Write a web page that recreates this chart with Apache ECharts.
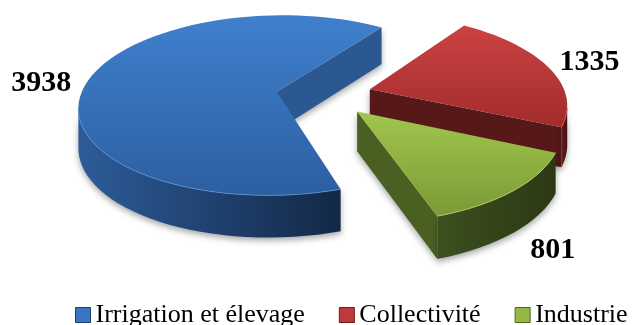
<!DOCTYPE html>
<html><head><meta charset="utf-8">
<script src="https://cdn.jsdelivr.net/npm/echarts@6/dist/echarts.min.js"></script>
<style>html,body{margin:0;padding:0;background:#fff}#c{width:633px;height:325px}</style>
</head><body><div id="c"></div>
<script>
// ---- data ----
const categories = ['Irrigation et élevage', 'Collectivité', 'Industrie'];
const values = [3938, 1335, 801];
const labelTexts = ['3938', '1335', '801'];

// ---- styles ----
const SERIF = '"Liberation Serif", "Times New Roman", "DejaVu Serif", serif';
const topColors = [['#3F80CE', '#2D5FA0'], ['#CC4242', '#A22C2C'], ['#A2C64E', '#7A9A36']];
const sideColors = [['#2D5C9A', '#132846'], ['#5E1C1C', '#481313'], ['#3C501E', '#2C3814']];
const wallColors = ['#2B5891', '#561818', '#4A6022'];
const rimColors = ['#5A92DA', '#D55C5C', '#B4D46A'];
const legendColors = ['#3A74C2', '#C03A3A', '#93B845'];
const legendBorders = ['#1E3F6E', '#6E1C1C', '#4F6620'];
const labelShift = [[-2, 7], [-1, 1], [-7, 5]];

// ---- geometry (layout) ----
const G = { cx: 324, cy: 95, sx: 196, sy: 89, p: 0.15, h: 39, explode: 0.245, start: -71.6, N: 120 };
const total = values.reduce((a, b) => a + b, 0);

function proj(X, Y) {
  const d = 1 + G.p * Y;
  return { x: G.cx + G.sx * X / d, y: G.cy - G.sy * Y / d, dep: G.h / Math.sqrt(d) };
}

function sliceRange(i) {
  let cum = 0;
  for (let j = 0; j < i; j++) cum += values[j];
  const a0 = (G.start - cum / total * 360) * Math.PI / 180;
  const a1 = a0 - values[i] / total * 2 * Math.PI;
  return [a1, a0]; // ccw from a1 to a0
}

function grad(c, vertical) {
  return new echarts.graphic.LinearGradient(0, 0, vertical ? 0 : 1, vertical ? 1 : 0,
    [{ offset: 0, color: c[0] }, { offset: 1, color: c[1] }]);
}

function makeRender(i) {
  return function (params, api) {
    const [a1, a0] = sliceRange(i);
    const mid = (a1 + a0) / 2;
    const ox = G.explode * Math.cos(mid), oy = G.explode * Math.sin(mid);
    const apex = proj(ox, oy);
    const rim = [];
    const n = Math.max(8, Math.round(G.N * (a0 - a1) / (2 * Math.PI)));
    for (let k = 0; k <= n; k++) {
      const t = a1 + (a0 - a1) * k / n;
      rim.push(proj(ox + Math.cos(t), oy + Math.sin(t)));
    }
    const M = proj(ox + Math.cos(mid), oy + Math.sin(mid));
    const children = [];
    const shadow = { shadowBlur: 6, shadowColor: 'rgba(0,0,0,0.35)', shadowOffsetY: 3 };

    // radial walls
    [rim[0], rim[n]].forEach(Q => {
      const ex = Q.x - apex.x, ey = Q.y - apex.y;
      const cM = ex * (M.y - apex.y) - ey * (M.x - apex.x);
      const cD = ex;
      if (cM * cD < 0) {
        children.push({
          type: 'polygon',
          shape: { points: [[apex.x, apex.y], [Q.x, Q.y], [Q.x, Q.y + Q.dep], [apex.x, apex.y + apex.dep]] },
          style: Object.assign({ fill: wallColors[i] }, shadow)
        });
      }
    });

    // curved outer wall (front-facing runs)
    let run = [];
    const runs = [];
    for (let k = 0; k < n; k++) {
      const vis = rim[k + 1].x > rim[k].x;
      if (vis) {
        if (run.length === 0) run.push(rim[k]);
        run.push(rim[k + 1]);
      } else if (run.length) { runs.push(run); run = []; }
    }
    if (run.length) runs.push(run);
    runs.forEach(r => {
      const pts = r.map(q => [q.x, q.y]).concat(r.slice().reverse().map(q => [q.x, q.y + q.dep]));
      children.push({
        type: 'polygon', shape: { points: pts },
        style: Object.assign({ fill: grad(sideColors[i], false) }, shadow)
      });
    });

    // top face
    const topPts = [[apex.x, apex.y]].concat(rim.map(q => [q.x, q.y]));
    children.push({
      type: 'polygon', shape: { points: topPts },
      style: { fill: grad(topColors[i], true) }
    });
    runs.forEach(r => {
      children.push({
        type: 'polyline', shape: { points: r.map(q => [q.x, q.y]) },
        style: { stroke: rimColors[i], lineWidth: 1, fill: null, opacity: 0.8 }
      });
    });

    // label
    const lr = 1.25;
    const L = proj(ox + lr * Math.cos(mid), oy + lr * Math.sin(mid));
    const ly = L.y + L.dep * Math.max(0, -Math.sin(mid));
    children.push({
      type: 'text',
      style: {
        text: labelTexts[i], x: L.x + labelShift[i][0], y: ly + labelShift[i][1],
        align: 'center', verticalAlign: 'middle',
        fontFamily: SERIF, fontWeight: 'bold', fontSize: 30, fill: '#000'
      }
    });
    return { type: 'group', children: children };
  };
}

const chart = echarts.init(document.getElementById('c'), null, { renderer: 'canvas' });
chart.setOption({
  animation: false,
  textStyle: { fontFamily: SERIF },
  legend: {
    left: 75, top: 302, width: 620, padding: 0,
    itemWidth: 15, itemHeight: 15, itemGap: 34, selectedMode: false,
    textStyle: { fontFamily: SERIF, fontSize: 26, color: '#000' },
    data: categories.map((c, i) => ({
      name: c, icon: 'rect',
      textStyle: { fontFamily: SERIF, fontSize: 26, color: '#000' },
      itemStyle: { color: legendColors[i], borderColor: legendBorders[i], borderWidth: 1 }
    }))
  },
  series: categories.map((c, i) => ({
    type: 'custom', name: c, coordinateSystem: 'none',
    itemStyle: { color: legendColors[i] },
    data: [values[i]],
    renderItem: makeRender(i)
  }))
});
</script></body></html>
